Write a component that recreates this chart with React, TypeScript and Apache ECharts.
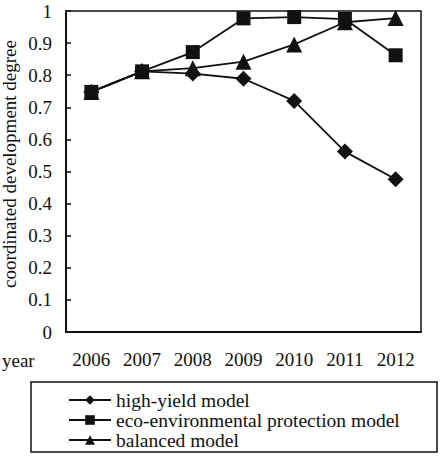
import React, { useEffect, useRef } from "react";
import * as echarts from "echarts";

const years = ["2006", "2007", "2008", "2009", "2010", "2011", "2012"];
const highYield = [0.748, 0.812, 0.805, 0.789, 0.72, 0.562, 0.476];
const ecoProtection = [0.748, 0.812, 0.872, 0.977, 0.981, 0.975, 0.862];
const balanced = [0.748, 0.812, 0.822, 0.842, 0.896, 0.965, 0.978];
const seriesNames = ["high-yield model", "eco-environmental protection model", "balanced model"];

const FONT = "Liberation Serif";

export default function App() {
  const ref = useRef<HTMLDivElement>(null);
  useEffect(() => {
    const chart = echarts.init(ref.current!, null, { renderer: "svg" });
    const lineStyle = { color: "#111", width: 1.8 };
    chart.setOption({
      animation: false,
      backgroundColor: "#fff",
      textStyle: { fontFamily: FONT, color: "#111" },
      grid: {
        left: 66,
        right: 19,
        top: 11,
        bottom: 124,
        outerBoundsMode: "none",
        containLabel: false,
        show: true,
        borderColor: "#111",
        borderWidth: 1.5,
      },
      xAxis: {
        type: "category",
        data: years,
        boundaryGap: true,
        axisLine: { lineStyle: { color: "#111", width: 2 } },
        axisTick: { inside: true, length: 5, lineStyle: { color: "#111", width: 1.5 } },
        axisLabel: { fontSize: 19, margin: 18, color: "#111", fontFamily: FONT },
      },
      yAxis: {
        type: "value",
        min: 0,
        max: 1,
        interval: 0.1,
        axisLine: { show: true, lineStyle: { color: "#111", width: 2 } },
        axisTick: { show: true, inside: true, length: 5, lineStyle: { color: "#111", width: 1.5 } },
        axisLabel: { fontSize: 19, margin: 14, color: "#111", fontFamily: FONT },
        splitLine: { show: false },
      },
      legend: {
        orient: "vertical",
        left: 68,
        top: 390,
        height: 66,
        padding: 0,
        itemWidth: 42,
        itemHeight: 12,
        itemGap: 0,
        textStyle: { fontSize: 19.5, lineHeight: 19, color: "#111", fontFamily: FONT },
        data: seriesNames,
      },
      graphic: [
        {
          type: "rect",
          shape: { x: 31, y: 382, width: 406, height: 70 },
          style: { fill: "none", stroke: "#111", lineWidth: 1.5 },
          silent: true,
        },
        {
          type: "text",
          x: 2,
          y: 360,
          style: { text: "year", fontSize: 19, fontFamily: FONT, fill: "#111", verticalAlign: "middle" },
        },
        {
          type: "text",
          x: 9,
          y: 164,
          rotation: Math.PI / 2,
          style: {
            text: "coordinated development degree",
            fontSize: 19,
            fontFamily: FONT,
            fill: "#111",
            align: "center",
            verticalAlign: "middle",
          },
        },
      ],
      series: [
        {
          name: seriesNames[0],
          type: "line",
          data: highYield,
          symbol: "diamond",
          symbolSize: 16,
          itemStyle: { color: "#111" },
          lineStyle,
          z: 3,
        },
        {
          name: seriesNames[1],
          type: "line",
          data: ecoProtection,
          symbol: "rect",
          symbolSize: 14,
          itemStyle: { color: "#111" },
          lineStyle,
          z: 4,
        },
        {
          name: seriesNames[2],
          type: "line",
          data: balanced,
          symbol: "triangle",
          symbolSize: 16,
          itemStyle: { color: "#111" },
          lineStyle,
          z: 2,
        },
      ],
    });
    return () => chart.dispose();
  }, []);
  return <div ref={ref} style={{ width: 440, height: 456, position: "absolute", left: 0, top: 0 }} />;
}
